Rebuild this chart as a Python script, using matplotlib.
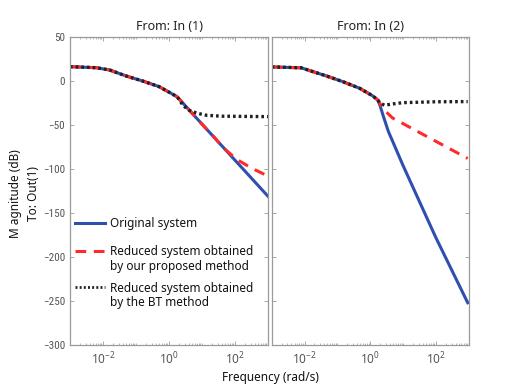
import matplotlib
matplotlib.use('Agg')
import matplotlib.pyplot as plt
import matplotlib.ticker as mticker
from matplotlib import font_manager
import numpy as np

# 数据（log10(频率), 幅值dB）
# In (1)
lw1_orig = [-3.0, -2.2, -1.8, -1.3, -0.8, -0.3, 0.03, 0.25, 1.0, 2.0, 3.0]
db1_orig = [16.3, 15.1, 12.5, 5.7, 0.0, -6.4, -13.3, -18.0, -49.0, -90.0, -131.0]
lw1_prop = [-3.0, -2.2, -1.8, -1.3, -0.8, -0.3, 0.03, 0.25, 1.0, 1.35, 1.65, 2.05, 2.5, 3.0]
db1_prop = [16.3, 15.1, 12.5, 5.7, 0.0, -6.4, -13.3, -18.0, -49.0, -63.0, -76.0, -89.0, -99.0, -108.0]
lw1_bt = [-3.0, -2.2, -1.8, -1.3, -0.8, -0.3, 0.03, 0.25, 0.43, 0.6, 0.84, 1.14, 1.6, 3.0]
db1_bt = [16.3, 15.1, 12.5, 5.7, 0.0, -6.4, -13.3, -18.0, -28.0, -33.0, -36.5, -39.0, -40.0, -40.5]

# In (2)
lw2_orig = [-3.0, -2.1, -1.74, -1.33, -0.83, -0.32, 0.08, 0.23, 0.3, 0.4, 0.55, 1.0, 2.0, 2.97]
db2_orig = [16.0, 15.0, 10.6, 5.7, -0.8, -8.3, -17.0, -21.6, -28.0, -40.0, -57.0, -96.0, -178.0, -252.0]
lw2_prop = [-3.0, -2.1, -1.74, -1.33, -0.83, -0.32, 0.08, 0.23, 0.4, 0.68, 1.5, 2.97]
db2_prop = [16.0, 15.0, 10.6, 5.7, -0.8, -8.3, -17.0, -21.6, -32.0, -42.0, -58.5, -88.0]
lw2_bt = [-3.0, -2.1, -1.74, -1.33, -0.83, -0.32, 0.08, 0.23, 0.3, 0.43, 0.7, 1.0, 2.0, 2.97]
db2_bt = [16.0, 15.0, 10.6, 5.7, -0.8, -8.3, -17.0, -21.6, -25.0, -27.5, -26.0, -24.6, -23.6, -23.4]

yticks = [50, 0, -50, -100, -150, -200, -250, -300]
xticks = [1e-2, 1e0, 1e2]
leg_labels = ['Original system',
              'Reduced system obtained\nby our proposed method',
              'Reduced system obtained\nby the BT method']

c_blue = '#2f4fae'
c_red = '#ff2a2a'
c_blk = '#202020'
c_gray = '#9a9a9a'

plt.rcParams['font.family'] = ['Noto Sans', 'DejaVu Sans']
plt.rcParams['axes.unicode_minus'] = True

# 刻度用窄字体（如果有）
avail = {f.name for f in font_manager.fontManager.ttflist}
tick_font = 'DejaVu Sans'
for nm in ['Liberation Sans Narrow', 'Roboto Condensed', 'Open Sans Condensed']:
    if nm in avail:
        tick_font = nm
        break

fig = plt.figure(figsize=(5.18, 3.88), dpi=100)
ax1 = fig.add_axes([70 / 518, 43 / 388, 198 / 518, 308 / 388])
ax2 = fig.add_axes([271.7 / 518, 43 / 388, 197 / 518, 308 / 388])


def w(a):
    return 10 ** np.array(a)


for ax, data, title in [(ax1, (lw1_orig, db1_orig, lw1_prop, db1_prop, lw1_bt, db1_bt), 'From: In (1)'),
                        (ax2, (lw2_orig, db2_orig, lw2_prop, db2_prop, lw2_bt, db2_bt), 'From: In (2)')]:
    ax.plot(w(data[0]), data[1], color=c_blue, lw=2.2)
    ax.plot(w(data[2]), data[3], color=c_red, lw=2.2, ls=(0, (3.5, 2.5)))
    ax.plot(w(data[4]), data[5], color=c_blk, lw=2.4, ls=(0, (0.8, 0.9)))
    ax.set_xscale('log')
    ax.set_xlim(1e-3, 1e3)
    ax.set_ylim(-300, 50)
    ax.set_yticks(yticks)
    ax.set_xticks(xticks)
    ax.xaxis.set_major_formatter(mticker.LogFormatterSciNotation())
    ax.xaxis.set_minor_locator(mticker.LogLocator(base=10, subs=np.arange(1, 10), numticks=20))
    ax.xaxis.set_minor_formatter(mticker.NullFormatter())
    ax.tick_params(which='both', direction='in', top=True, right=True, colors=c_gray,
                   labelcolor='#555555', labelsize=8)
    ax.tick_params(axis='x', which='major', pad=4, labelsize=8.5)
    ax.tick_params(which='major', length=3, width=0.6)
    ax.tick_params(which='minor', length=1.6, width=0.5)
    for s in ax.spines.values():
        s.set_color(c_gray)
        s.set_linewidth(0.9)
    ax.set_title(title, fontsize=9, color='#222222', pad=5)
    for lab in ax.get_yticklabels():
        lab.set_family(tick_font)
        lab.set_stretch('condensed')

ax2.set_yticklabels([])

# 图例（手动绘制）
hx = [0.025, 0.177]
hy = [0.396, 0.306, 0.188]
sty = [dict(color=c_blue, lw=2.2), dict(color=c_red, lw=2.2, ls=(0, (3.5, 2.5))),
       dict(color=c_blk, lw=2.0, ls=(0, (0.7, 0.8)))]
for y, s, lab in zip(hy, sty, leg_labels):
    ax1.plot(hx, [y, y], transform=ax1.transAxes, **s)
    ax1.text(0.2, y + 0.018, lab, transform=ax1.transAxes, fontsize=8.5,
             va='top', ha='left', color='#111111', linespacing=1.15)

fig.text(0.048, 0.5, 'M agnitude (dB)\nTo: Out(1)', rotation=90, ha='center', va='center',
         fontsize=8.5, color='#111111', multialignment='center', linespacing=1.5)
fig.text(270 / 518, 1 - 378 / 388, 'Frequency (rad/s)', ha='center', va='center',
         fontsize=8.5, color='#111111')

fig.savefig('out.png', dpi=100)
